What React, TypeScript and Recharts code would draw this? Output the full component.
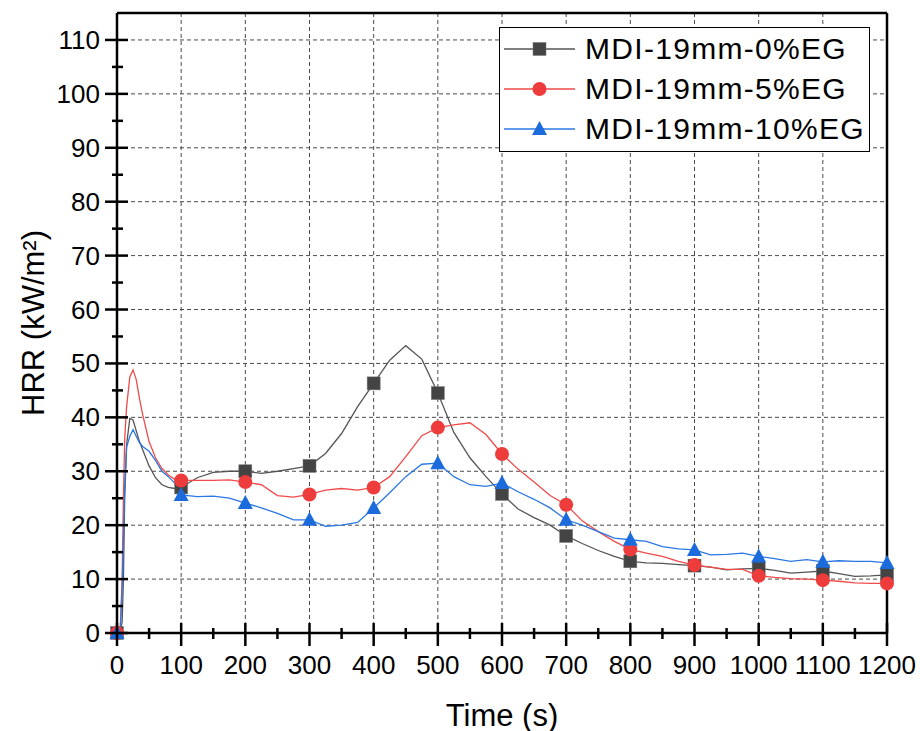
import React from 'react';
import { LineChart, Line, XAxis, YAxis, ReferenceLine, Legend } from 'recharts';

const times = [0, 5, 8, 10, 12, 15, 20, 25, 30, 35, 40, 50, 60, 70, 80, 90, 100,
  125, 150, 175, 200, 225, 250, 275, 300, 325, 350, 375, 400, 425, 450, 475, 500,
  525, 550, 575, 600, 625, 650, 675, 700, 725, 750, 775, 800, 825, 850, 875, 900,
  925, 950, 975, 1000, 1025, 1050, 1075, 1100, 1125, 1150, 1175, 1200];

const eg0 = [0, 0.5, 2, 10, 25, 35, 39.8, 39.5, 37.5, 35.5, 34, 31, 28.8, 27.5, 27, 26.8, 27,
  28.8, 29.8, 30, 30, 29.6, 30, 30.5, 31, 33.3, 37, 42, 46.3, 50.6, 53.3, 50.8, 44.5,
  37.2, 32.5, 29, 25.8, 23, 21.4, 20, 18, 16.6, 15.3, 14.2, 13.3, 13, 12.9, 12.7, 12.5,
  12.2, 11.7, 11.9, 12, 11.6, 11.1, 11.3, 11.5, 11, 10.5, 10.6, 10.8];

const eg5 = [0, 0.5, 10, 25, 36, 42, 47.5, 48.8, 47, 43.5, 40.5, 35.5, 32.5, 30.5, 29.3, 28.5, 28.3,
  28.3, 28.3, 28.4, 28, 27.5, 25.5, 25.2, 25.7, 26.5, 26.8, 26.5, 27, 29, 32.7, 36.6, 38.1,
  38.6, 39, 36.8, 33.2, 30.4, 28, 25.5, 23.8, 20.8, 18.8, 17, 15.5, 14.8, 14.2, 13.3, 12.6,
  12.2, 11.8, 11.8, 10.6, 10.3, 10.1, 10, 9.8, 9.6, 9.3, 9.2, 9.2];

const eg10 = [0, 0.5, 8, 17, 27, 34.5, 36.5, 37.7, 36.5, 35.3, 34.6, 33.7, 32, 30, 29, 27.8, 25.6,
  25.3, 25.4, 25, 24.1, 23.2, 22.2, 21, 21, 19.8, 20, 20.5, 23.2, 26, 29, 31.3, 31.5,
  29, 27.5, 27.2, 27.8, 26.2, 24.8, 23.2, 21, 20, 18.8, 17.6, 17.3, 17, 16, 15.6, 15.4,
  14.5, 14.6, 14.8, 14.2, 13.8, 13.3, 13.6, 13.2, 13.4, 13.3, 13.3, 13];

const seriesNames = ['MDI-19mm-0%EG', 'MDI-19mm-5%EG', 'MDI-19mm-10%EG'];
const seriesKeys = ['g', 'r', 'b'];
const xMajor = [0, 100, 200, 300, 400, 500, 600, 700, 800, 900, 1000, 1100, 1200];
const xAll = [0, 50, 100, 150, 200, 250, 300, 350, 400, 450, 500, 550, 600, 650, 700, 750, 800, 850, 900, 950, 1000, 1050, 1100, 1150, 1200];
const yMajor = [0, 10, 20, 30, 40, 50, 60, 70, 80, 90, 100, 110];
const yAll = [0, 5, 10, 15, 20, 25, 30, 35, 40, 45, 50, 55, 60, 65, 70, 75, 80, 85, 90, 95, 100, 105, 110];
const xGrid = [100, 200, 300, 400, 500, 600, 700, 800, 900, 1000, 1100];
const yGrid = [10, 20, 30, 40, 50, 60, 70, 80, 90, 100, 110];

const data = times.map((t, i) => ({ t, g: eg0[i], r: eg5[i], b: eg10[i] }));

const FONT = '"Liberation Sans", Arial, sans-serif';

const style: Record<string, { line: string; marker: string; shape: string }> = {
  g: { line: '#555555', marker: '#444444', shape: 'square' },
  r: { line: '#f04a4a', marker: '#ee3b3b', shape: 'circle' },
  b: { line: '#2a78e4', marker: '#1c6bdc', shape: 'triangle' },
};

const Marker = ({ cx, cy, shape, color }: any) => {
  if (shape === 'square') return <rect x={cx - 6.5} y={cy - 6.5} width={13} height={13} fill={color} stroke="#777" strokeWidth={0.5} />;
  if (shape === 'circle') return <circle cx={cx} cy={cy} r={7} fill={color} />;
  return <polygon points={`${cx},${cy - 8} ${cx + 7.5},${cy + 6} ${cx - 7.5},${cy + 6}`} fill={color} />;
};

const makeDot = (key: string) => (props: any) => {
  const { cx, cy, payload, index } = props;
  if (payload && payload.t % 100 === 0 && cx != null && cy != null) {
    return <g key={`${key}-${index}`}><Marker cx={cx} cy={cy} shape={style[key].shape} color={style[key].marker} /></g>;
  }
  return <g key={`${key}-${index}`} />;
};

const XTick = (props: any) => {
  const { x, y, payload } = props;
  const v = payload.value;
  const major = v % 100 === 0;
  return (
    <g>
      <line x1={x} x2={x} y1={major ? y - 10 : y - 5} y2={major ? y + 13 : y + 6} stroke="#000" strokeWidth={2.5} />
      {major && (
        <text x={x} y={y + 32} textAnchor="middle" dominantBaseline="central" fontSize={26} fontFamily={FONT} fill="#000">{v}</text>
      )}
    </g>
  );
};

const YTick = (props: any) => {
  const { x, y, payload } = props;
  const v = payload.value;
  const major = v % 10 === 0;
  return (
    <g>
      <line x1={major ? x - 12 : x - 5} x2={major ? x + 11 : x + 6} y1={y} y2={y} stroke="#000" strokeWidth={2.5} />
      {major && (
        <text x={x - 17} y={y} textAnchor="end" dominantBaseline="central" fontSize={26} fontFamily={FONT} fill="#000">{v}</text>
      )}
    </g>
  );
};

const LegendBox = (props: any) => {
  const payload = (props.payload || []).slice().sort(
    (a: any, b: any) => seriesKeys.indexOf(a.dataKey) - seriesKeys.indexOf(b.dataKey)
  );
  return (
    <div style={{ border: '1.5px solid #000', background: '#fff', width: 371, height: 125, boxSizing: 'border-box', paddingTop: 1, fontFamily: FONT }}>
      {payload.map((p: any, i: number) => {
        const key = p.dataKey as string;
        const s = style[key];
        return (
          <div key={i} style={{ display: 'flex', alignItems: 'center', height: 40 }}>
            <svg width={80} height={40} style={{ display: 'block' }}>
              <line x1={4} x2={75} y1={20} y2={20} stroke={s.line} strokeWidth={1.5} />
              <Marker cx={39.5} cy={20} shape={s.shape} color={s.marker} />
            </svg>
            <span style={{ fontSize: 30, marginLeft: 5, color: '#000', letterSpacing: 1.3, whiteSpace: 'nowrap' }}>{p.value}</span>
          </div>
        );
      })}
    </div>
  );
};

export default function App() {
  return (
    <div style={{ position: 'absolute', left: 0, top: 0, width: 920, height: 731, background: '#fff', fontFamily: FONT }}>
      <LineChart width={920} height={731} data={data} margin={{ top: 13, right: 33, left: 0, bottom: 0 }}>
        <XAxis
          xAxisId="x"
          dataKey="t"
          type="number"
          domain={[0, 1200]}
          ticks={xAll}
          interval={0}
          height={98}
          tickSize={0}
          tickMargin={0}
          tickLine={false}
          tick={<XTick />}
          axisLine={{ stroke: '#000', strokeWidth: 2.5 }}
          label={{
            content: (p: any) => {
              const vb = p.viewBox || { x: 117, y: 633, width: 769 };
              return (
                <text x={vb.x + vb.width / 2} y={vb.y + 82} textAnchor="middle" dominantBaseline="central" fontSize={31} fontFamily={FONT} fill="#000">Time (s)</text>
              );
            },
          }}
        />
        <XAxis
          xAxisId="top"
          orientation="top"
          type="number"
          domain={[0, 1200]}
          ticks={xMajor}
          interval={0}
          height={1}
          tick={false}
          mirror
          tickSize={6}
          tickLine={{ stroke: '#000', strokeWidth: 1.5 }}
          axisLine={{ stroke: '#000', strokeWidth: 2.5 }}
        />
        <YAxis
          yAxisId="y"
          type="number"
          domain={[0, 115]}
          ticks={yAll}
          interval={0}
          width={117}
          tickSize={0}
          tickMargin={0}
          tickLine={false}
          tick={<YTick />}
          axisLine={{ stroke: '#000', strokeWidth: 2.5 }}
          label={{
            content: (p: any) => {
              const vb = p.viewBox || { x: 0, y: 14, width: 117, height: 619 };
              const cx = 33;
              const cy = vb.y + vb.height / 2;
              return (
                <text x={cx} y={cy} transform={`rotate(-90 ${cx} ${cy})`} textAnchor="middle" dominantBaseline="central" fontSize={31} fontFamily={FONT} fill="#000">HRR (kW/m²)</text>
              );
            },
          }}
        />
        <YAxis
          yAxisId="right"
          orientation="right"
          type="number"
          domain={[0, 115]}
          ticks={yMajor}
          interval={0}
          width={1}
          tick={false}
          mirror
          tickSize={6}
          tickLine={{ stroke: '#000', strokeWidth: 1.5 }}
          axisLine={{ stroke: '#000', strokeWidth: 2.5 }}
        />
        {xGrid.map((v) => (
          <ReferenceLine key={`vx${v}`} x={v} xAxisId="x" yAxisId="y" stroke="#4a4a4a" strokeWidth={1} strokeDasharray="4 3" />
        ))}
        {yGrid.map((v) => (
          <ReferenceLine key={`hy${v}`} y={v} xAxisId="x" yAxisId="y" stroke="#4a4a4a" strokeWidth={1} strokeDasharray="4 3" />
        ))}
        <Line xAxisId="x" yAxisId="y" type="linear" dataKey="g" name={seriesNames[0]} stroke={style.g.line} strokeWidth={1.3} dot={makeDot('g')} activeDot={false} isAnimationActive={false} />
        <Line xAxisId="x" yAxisId="y" type="linear" dataKey="r" name={seriesNames[1]} stroke={style.r.line} strokeWidth={1.3} dot={makeDot('r')} activeDot={false} isAnimationActive={false} />
        <Line xAxisId="x" yAxisId="y" type="linear" dataKey="b" name={seriesNames[2]} stroke={style.b.line} strokeWidth={1.3} dot={makeDot('b')} activeDot={false} isAnimationActive={false} />
        <Legend
          layout="horizontal"
          verticalAlign="middle"
          align="center"
          content={<LegendBox />}
          wrapperStyle={{ left: 499, top: 27, width: 371, height: 125 }}
        />
      </LineChart>
    </div>
  );
}
